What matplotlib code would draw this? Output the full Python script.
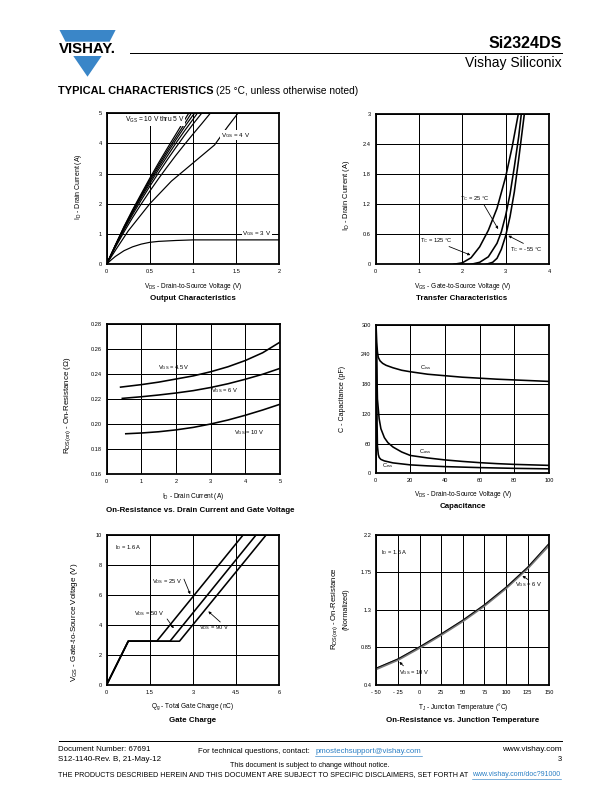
import matplotlib
matplotlib.use('Agg')
import matplotlib.pyplot as plt
from matplotlib.patches import Polygon

plt.rcParams['font.family'] = ['Liberation Sans', 'DejaVu Sans']
plt.rcParams['mathtext.fontset'] = 'custom'
plt.rcParams['mathtext.rm'] = 'Liberation Sans'
plt.rcParams['mathtext.it'] = 'Liberation Sans:italic'
plt.rcParams['mathtext.bf'] = 'Liberation Sans:bold'

# ---- Output characteristics (VDS, ID) ----
out_x_10 = [0, 0.1, 0.2, 0.3, 0.4, 0.5, 0.6, 0.7, 0.8, 0.9, 0.95]
out_y_10 = [0, 0.63, 1.24, 1.8, 2.33, 2.85, 3.35, 3.83, 4.3, 4.77, 5.0]
out_x_9 = [0, 0.1, 0.2, 0.3, 0.4, 0.5, 0.6, 0.7, 0.8, 0.9, 0.98]
out_y_9 = [0, 0.62, 1.22, 1.77, 2.29, 2.8, 3.28, 3.75, 4.2, 4.64, 5.0]
out_x_8 = [0, 0.1, 0.2, 0.3, 0.4, 0.5, 0.6, 0.7, 0.8, 0.9, 1.0, 1.02]
out_y_8 = [0, 0.61, 1.2, 1.74, 2.25, 2.74, 3.21, 3.67, 4.11, 4.54, 4.94, 5.0]
out_x_7 = [0, 0.1, 0.2, 0.3, 0.4, 0.5, 0.6, 0.7, 0.8, 0.9, 1.0, 1.05]
out_y_7 = [0, 0.6, 1.17, 1.7, 2.2, 2.67, 3.13, 3.57, 4.0, 4.41, 4.8, 5.0]
out_x_6 = [0, 0.1, 0.2, 0.3, 0.4, 0.5, 0.6, 0.7, 0.8, 0.9, 1.0, 1.1]
out_y_6 = [0, 0.58, 1.13, 1.64, 2.12, 2.58, 3.02, 3.45, 3.86, 4.26, 4.64, 5.0]
out_x_5 = [0, 0.1, 0.2, 0.3, 0.4, 0.5, 0.6, 0.7, 0.8, 0.9, 1.0, 1.1, 1.2]
out_y_5 = [0, 0.55, 1.06, 1.54, 1.99, 2.42, 2.83, 3.22, 3.6, 3.96, 4.31, 4.65, 5.0]
out_x_4 = [0, 0.1, 0.25, 0.5, 0.75, 1.0, 1.25, 1.4, 1.52]
out_y_4 = [0, 0.45, 1.1, 2.0, 2.75, 3.35, 3.95, 4.55, 5.0]
out_x_3 = [0, 0.05, 0.1, 0.2, 0.3, 0.4, 0.5, 0.6, 0.8, 1.0, 1.5, 2.0]
out_y_3 = [0, 0.13, 0.25, 0.44, 0.57, 0.66, 0.72, 0.75, 0.78, 0.8, 0.8, 0.8]

# ---- Transfer characteristics (VGS, ID) ----
tr_x_125 = [1.8, 2.0, 2.2, 2.4, 2.6, 2.8, 3.0, 3.15, 3.29]
tr_y_125 = [0, 0.03, 0.13, 0.35, 0.68, 1.12, 1.75, 2.35, 3.0]
tr_x_25 = [2.2, 2.4, 2.6, 2.8, 2.9, 3.0, 3.1, 3.2, 3.3, 3.36]
tr_y_25 = [0, 0.04, 0.15, 0.42, 0.65, 0.98, 1.4, 1.95, 2.55, 3.0]
tr_x_m55 = [2.55, 2.7, 2.8, 2.9, 3.0, 3.1, 3.2, 3.3, 3.43]
tr_y_m55 = [0, 0.04, 0.12, 0.3, 0.57, 0.95, 1.45, 2.1, 3.0]

# ---- On-resistance vs drain current ----
ron_x_45 = [0.4, 1, 1.5, 2, 2.5, 3, 3.5, 4, 4.5, 5]
ron_y_45 = [0.2295, 0.2315, 0.2335, 0.236, 0.2385, 0.2418, 0.2458, 0.2508, 0.257, 0.2655]
ron_x_6 = [0.45, 1, 1.5, 2, 2.5, 3, 3.5, 4, 4.5, 5]
ron_y_6 = [0.2205, 0.2218, 0.2232, 0.2248, 0.2267, 0.2292, 0.2322, 0.2358, 0.2398, 0.2445]
ron_x_10 = [0.55, 1, 1.5, 2, 2.5, 3, 3.5, 4, 4.5, 5]
ron_y_10 = [0.1922, 0.1928, 0.1938, 0.1953, 0.1973, 0.2, 0.2032, 0.207, 0.2112, 0.2158]

# ---- Capacitance ----
ciss_x = [0.2, 0.6, 1, 1.5, 2.5, 4, 6, 10, 15, 20, 30, 40, 50, 60, 70, 80, 90, 100]
ciss_y = [300, 265, 245, 234, 227, 222, 218, 213, 208, 205, 200, 197, 194, 192, 190, 188.5, 187, 185.5]
coss_x = [0.5, 1, 2, 3, 5, 7, 10, 15, 20, 30, 40, 50, 60, 70, 80, 90, 100]
coss_y = [240, 150, 110, 90, 72, 62, 53, 43, 36, 31, 27, 24, 21.5, 19.5, 18, 17, 16]
crss_x = [0.5, 0.8, 1, 1.5, 2, 3, 5, 10, 20, 30, 40, 60, 80, 100]
crss_y = [240, 100, 55, 38, 32, 28, 25, 21, 17, 15, 13.5, 11.5, 10, 9]

# ---- Gate charge ----
qg_25 = [0, 0.75, 1.74, 4.75]
vgs_25 = [0, 2.9, 2.9, 10]
qg_50 = [0, 0.75, 2.2, 5.2]
vgs_50 = [0, 2.9, 2.9, 10]
qg_90 = [0, 0.75, 2.53, 5.55]
vgs_90 = [0, 2.9, 2.9, 10]

# ---- On-resistance vs junction temperature ----
tj = [-50, -25, 0, 25, 50, 75, 100, 125, 150]
rn_10 = [0.59, 0.70, 0.845, 1.0, 1.165, 1.35, 1.56, 1.8, 2.08]
rn_6 = [0.6, 0.71, 0.855, 1.01, 1.175, 1.36, 1.57, 1.81, 2.1]

W, H = 612, 792
fig = plt.figure(figsize=(8.5, 11), dpi=72)
renderer = fig.canvas.get_renderer()

bg = fig.add_axes([0, 0, 1, 1])
bg.set_xlim(0, W)
bg.set_ylim(H, 0)
bg.axis('off')


def box(l, t, r, b):
    return fig.add_axes([l / W, 1 - b / H, (r - l) / W, (b - t) / H])


def style(ax, xl, yl, xt, yt, xtl, ytl):
    ax.set_xlim(*xl)
    ax.set_ylim(*yl)
    ax.set_xticks(xt)
    ax.set_yticks(yt)
    ax.set_xticklabels(xtl)
    ax.set_yticklabels(ytl)
    ax.grid(True, color='black', lw=1.0)
    ax.set_axisbelow(True)
    for s in ax.spines.values():
        s.set_linewidth(1.8)
    ax.tick_params(length=0, labelsize=5.6, pad=5)


def fit_size(s, span, size=6, **kw):
    # font size that gives the text a width of span pixels
    t = bg.text(0, 0, s, fontsize=size, **kw)
    bb = t.get_window_extent(renderer=renderer)
    t.remove()
    return size * span / bb.width


def txt(x, y, s, span=None, **kw):
    # span: wanted length of the text in pixels (width, or height if rotated)
    t = bg.text(x, y, s, ha=kw.pop('ha', 'center'), va=kw.pop('va', 'center'), **kw)
    if span:
        bb = t.get_window_extent(renderer=renderer)
        size = bb.height if kw.get('rotation') == 90 else bb.width
        t.set_fontsize(t.get_fontsize() * span / size)
    return t


xsize = fit_size(r'V$_{\rm GS}$ - Gate-to-Source Voltage (V)', 98)
tsize = fit_size('On-Resistance vs. Drain Current and Gate Voltage', 188,
                 fontweight='bold')
xlab = dict(fontsize=xsize)
tlab = dict(fontsize=tsize, fontweight='bold')

lw = 1.6
sub = dict(fontsize=5.8)
arr = dict(arrowstyle='-|>', color='black', lw=0.8, mutation_scale=5)

# Output characteristics
ax1 = box(106.7, 113.3, 279.3, 264)
for xs, ys in [(out_x_10, out_y_10), (out_x_9, out_y_9), (out_x_8, out_y_8),
               (out_x_7, out_y_7), (out_x_6, out_y_6), (out_x_5, out_y_5),
               (out_x_4, out_y_4), (out_x_3, out_y_3)]:
    ax1.plot(xs, ys, color='black', lw=1.2)
style(ax1, (0, 2), (0, 5), [0, 0.5, 1, 1.5, 2], [0, 1, 2, 3, 4, 5],
      ['0', '0.5', '1', '1.5', '2'], ['0', '1', '2', '3', '4', '5'])
ax1.text(0.56, 4.78, r'V$_{\rm GS}$ = 10 V thru 5 V', ha='center', va='center',
         bbox=dict(fc='white', ec='none', pad=0.5), fontsize=6.6)
ax1.text(1.49, 4.27, r'V$_{\rm GS}$ = 4 V', ha='center', va='center',
         bbox=dict(fc='white', ec='none', pad=0.5), fontsize=6.3)
ax1.text(1.74, 1.0, r'V$_{\rm GS}$ = 3 V', ha='center', va='center',
         bbox=dict(fc='white', ec='none', pad=0.5), fontsize=6.3)
txt(193, 286, r'V$_{\rm DS}$ - Drain-to-Source Voltage (V)', **xlab)
txt(193, 299, 'Output Characteristics', **tlab)
txt(78, 187, r'I$_{\rm D}$ - Drain Current (A)', span=67, fontsize=6, rotation=90)

# Transfer characteristics
ax2 = box(375.7, 114.3, 549, 264.3)
ax2.plot(tr_x_125, tr_y_125, color='black', lw=lw)
ax2.plot(tr_x_25, tr_y_25, color='black', lw=lw)
ax2.plot(tr_x_m55, tr_y_m55, color='black', lw=lw)
style(ax2, (0, 4), (0, 3), [0, 1, 2, 3, 4], [0, 0.6, 1.2, 1.8, 2.4, 3.0],
      ['0', '1', '2', '3', '4'], ['0', '0.6', '1.2', '1.8', '2.4', '3'])
ax2.text(2.28, 1.31, r'T$_{\rm C}$ = 25 °C', ha='center', va='center', **sub)
ax2.annotate('', xy=(2.85, 0.67), xytext=(2.48, 1.22), arrowprops=arr)
ax2.text(1.4, 0.47, r'T$_{\rm C}$ = 125 °C', ha='center', va='center', **sub)
ax2.annotate('', xy=(2.23, 0.17), xytext=(1.65, 0.37), arrowprops=arr)
ax2.text(3.48, 0.3, r'T$_{\rm C}$ = - 55 °C', ha='center', va='center', **sub)
ax2.annotate('', xy=(3.02, 0.59), xytext=(3.45, 0.4), arrowprops=arr)
txt(463, 286, r'V$_{\rm GS}$ - Gate-to-Source Voltage (V)', **xlab)
txt(462, 299, 'Transfer Characteristics', **tlab)
txt(346, 195, r'I$_{\rm D}$ - Drain Current (A)', span=72, fontsize=6, rotation=90)

# On-resistance vs drain current
ax3 = box(106.7, 324, 280, 474)
ax3.plot(ron_x_45, ron_y_45, color='black', lw=lw)
ax3.plot(ron_x_6, ron_y_6, color='black', lw=lw)
ax3.plot(ron_x_10, ron_y_10, color='black', lw=lw)
style(ax3, (0, 5), (0.16, 0.28), [0, 1, 2, 3, 4, 5],
      [0.16, 0.18, 0.20, 0.22, 0.24, 0.26, 0.28],
      ['0', '1', '2', '3', '4', '5'],
      ['0.16', '0.18', '0.20', '0.22', '0.24', '0.26', '0.28'])
ax3.text(1.95, 0.2455, r'V$_{\rm GS}$ = 4.5 V', ha='center', va='center', **sub)
ax3.text(3.4, 0.2265, r'V$_{\rm GS}$ = 6 V', ha='center', va='center', **sub)
ax3.text(4.12, 0.1935, r'V$_{\rm GS}$ = 10 V', ha='center', va='center', **sub)
txt(193, 497, r'I$_{\rm D}$ - Drain Current (A)', **xlab)
txt(200, 510, 'On-Resistance vs. Drain Current and Gate Voltage', **tlab)
txt(68, 405, r'R$_{\rm DS(on)}$ - On-Resistance (Ω)', span=98, fontsize=6, rotation=90)

# Capacitance
ax4 = box(375.7, 324.7, 549, 473.3)
ax4.plot(ciss_x, ciss_y, color='black', lw=lw)
ax4.plot(coss_x, coss_y, color='black', lw=lw)
ax4.plot(crss_x, crss_y, color='black', lw=lw)
style(ax4, (0, 100), (0, 300), [0, 20, 40, 60, 80, 100], [0, 60, 120, 180, 240, 300],
      ['0', '20', '40', '60', '80', '100'], ['0', '60', '120', '180', '240', '300'])
ax4.text(28.5, 214, r'C$_{\rm iss}$', ha='center', va='center', **sub)
ax4.text(28.5, 44, r'C$_{\rm oss}$', ha='center', va='center', **sub)
ax4.text(6.8, 16.5, r'C$_{\rm rss}$', ha='center', va='center', **sub)
txt(463, 494, r'V$_{\rm DS}$ - Drain-to-Source Voltage (V)', **xlab)
txt(463, 507, 'Capacitance', **tlab)
txt(342, 399, 'C - Capacitance (pF)', span=66, fontsize=6, rotation=90)

# Gate charge
ax5 = box(106.7, 534.7, 279.3, 684.7)
ax5.plot(qg_25, vgs_25, color='black', lw=lw)
ax5.plot(qg_50, vgs_50, color='black', lw=lw)
ax5.plot(qg_90, vgs_90, color='black', lw=lw)
style(ax5, (0, 6), (0, 10), [0, 1.5, 3, 4.5, 6], [0, 2, 4, 6, 8, 10],
      ['0', '1.5', '3', '4.5', '6'], ['0', '2', '4', '6', '8', '10'])
ax5.text(0.29, 9.13, r'I$_{\rm D}$ = 1.6 A', ha='left', va='center', **sub)
ax5.text(2.08, 6.87, r'V$_{\rm DS}$ = 25 V', ha='center', va='center', **sub)
ax5.annotate('', xy=(2.93, 5.91), xytext=(2.66, 7.16), arrowprops=arr)
ax5.text(1.48, 4.76, r'V$_{\rm DS}$ = 50 V', ha='center', va='center', **sub)
ax5.annotate('', xy=(2.37, 3.65), xytext=(2.06, 4.49), arrowprops=arr)
ax5.text(3.74, 3.8, r'V$_{\rm DS}$ = 90 V', ha='center', va='center', **sub)
ax5.annotate('', xy=(3.48, 4.98), xytext=(4.0, 4.09), arrowprops=arr)
txt(193, 707, r'Q$_{\rm g}$ - Total Gate Charge (nC)', **xlab)
txt(193, 720, 'Gate Charge', **tlab)
txt(75, 622, r'V$_{\rm GS}$ - Gate-to-Source Voltage (V)', span=120, fontsize=6,
    rotation=90)

# On-resistance vs junction temperature
ax6 = box(376.3, 534.7, 549.3, 684.7)
ax6.plot(tj, rn_10, color='#777777', lw=2.6)
ax6.plot(tj, rn_6, color='black', lw=0.9)
style(ax6, (-50, 150), (0.4, 2.2), [-50, -25, 0, 25, 50, 75, 100, 125, 150],
      [0.4, 0.85, 1.3, 1.75, 2.2],
      ['- 50', '- 25', '0', '25', '50', '75', '100', '125', '150'],
      ['0.4', '0.85', '1.3', '1.75', '2.2'])
ax6.text(-45, 1.98, r'I$_{\rm D}$ = 1.5 A', ha='left', va='center', **sub)
ax6.text(126, 1.6, r'V$_{\rm GS}$ = 6 V', ha='center', va='center', **sub)
ax6.annotate('', xy=(117, 1.72), xytext=(127, 1.65), arrowprops=arr)
ax6.text(-6, 0.55, r'V$_{\rm GS}$ = 10 V', ha='center', va='center', **sub)
ax6.annotate('', xy=(-25, 0.69), xytext=(-17, 0.61), arrowprops=arr)
txt(463, 707, r'T$_{\rm J}$ - Junction Temperature (°C)', **xlab)
txt(463, 720, 'On-Resistance vs. Junction Temperature', **tlab)
txt(335, 609, r'R$_{\rm DS(on)}$ - On-Resistance', span=84, fontsize=6, rotation=90)
txt(346, 609, '(Normalized)', span=42, fontsize=6, rotation=90)

# ---- header ----
blue = '#3a86c8'
bg.add_patch(Polygon([(59.5, 30), (115.6, 30), (109.6, 41.7), (65.5, 41.7)],
                     closed=True, fc=blue, ec='none'))
bg.add_patch(Polygon([(73.3, 56), (101.7, 56), (87.5, 76.7)],
                     closed=True, fc=blue, ec='none'))
txt(87.3, 49, 'VISHAY.', span=57, fontsize=10, fontweight='heavy')
bg.plot([130, 562], [53.3, 53.3], color='black', lw=1.0)
txt(562, 44, 'Si2324DS', span=73, fontsize=13, fontweight='bold', ha='right')
txt(562, 63, 'Vishay Siliconix', span=96, fontsize=12, ha='right')
txt(58.5, 91, 'TYPICAL CHARACTERISTICS', span=154, fontsize=10,
    fontweight='heavy', ha='left')
txt(216, 91, '(25 °C, unless otherwise noted)', span=141, fontsize=9, ha='left')

# ---- footer ----
link = '#2a7fc4'
bg.plot([58.5, 562], [741, 741], color='black', lw=1.0)
txt(58.5, 749.5, 'Document Number: 67691', span=92.5, fontsize=7.5, ha='left')
txt(58.5, 759.5, 'S12-1140-Rev. B, 21-May-12', span=103, fontsize=7.5, ha='left')
txt(197.5, 751.5, 'For technical questions, contact:', span=112, fontsize=7.5, ha='left')
txt(315.3, 751.5, 'pmostechsupport@vishay.com', span=107, fontsize=7.5, color=link,
    ha='left')
bg.plot([315.3, 422.4], [755.5, 755.5], color=link, lw=0.6)
txt(562, 749.5, 'www.vishay.com', span=59.6, fontsize=7.5, ha='right')
txt(562, 759.5, '3', fontsize=7.5, ha='right')
txt(310, 765.5, 'This document is subject to change without notice.', span=158.5,
    fontsize=7.3)
txt(58.5, 774.5, 'THE PRODUCTS DESCRIBED HEREIN AND THIS DOCUMENT ARE SUBJECT TO '
    'SPECIFIC DISCLAIMERS, SET FORTH AT', span=411.5, fontsize=7, ha='left')
txt(472.4, 774.5, 'www.vishay.com/doc?91000', span=88.8, fontsize=7, color=link,
    ha='left')
bg.plot([472.4, 561.2], [778.5, 778.5], color=link, lw=0.6)

fig.savefig('out.png', dpi=72)
